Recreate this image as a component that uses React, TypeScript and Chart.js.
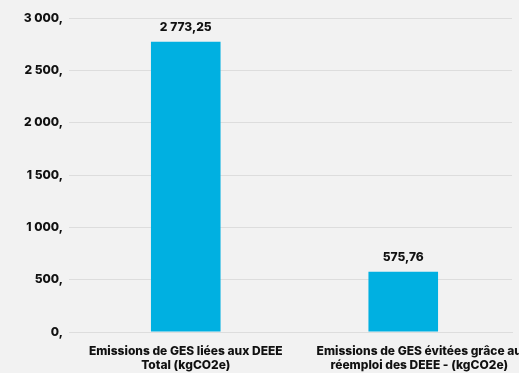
import React, { useEffect, useRef } from "react";
import { Chart, registerables } from "chart.js";

Chart.register(...registerables);

const categories: string[][] = [
  ["Emissions de GES liées aux DEEE", "Total (kgCO2e)"],
  ["Emissions de GES évitées grâce au", "réemploi des DEEE - (kgCO2e)"],
];
const values: number[] = [2773.25, 575.76];
const valueLabels: string[] = ["2 773,25", "575,76"];

const FONT = "Inter, sans-serif";
const WEIGHT = "800";
const BAR_COLOR = "#00b0e1";
const GRID = "#dddddd";
const BG = "#f2f2f2";

const fmtTick = (v: number) =>
  String(v).replace(/\B(?=(\d{3})+(?!\d))/g, " ") + ",";

// Writes the value above each bar
const valueLabelPlugin = {
  id: "valueLabels",
  afterDatasetsDraw(chart: any) {
    const { ctx } = chart;
    const meta = chart.getDatasetMeta(0);
    ctx.save();
    ctx.font = `${WEIGHT} 12px ${FONT}`;
    ctx.fillStyle = "#111";
    ctx.textAlign = "center";
    ctx.textBaseline = "middle";
    meta.data.forEach((bar: any, i: number) => {
      ctx.fillText(valueLabels[i], bar.x, bar.y - 14);
    });
    ctx.restore();
  },
};

// Category captions under the x axis; the last one is nudged right and
// allowed to run past the canvas edge.
const categoryCaptionPlugin = {
  id: "categoryCaptions",
  afterDraw(chart: any) {
    const { ctx } = chart;
    const xs = chart.scales.x;
    const nudge = [0, 16];
    ctx.save();
    ctx.font = `${WEIGHT} 12px ${FONT}`;
    ctx.fillStyle = "#111";
    ctx.textAlign = "center";
    ctx.textBaseline = "middle";
    categories.forEach((lines, i) => {
      const x = xs.getPixelForTick(i) + nudge[i];
      lines.forEach((line, j) => {
        ctx.fillText(line, x, xs.top + 19 + j * 14);
      });
    });
    ctx.restore();
  },
};

export default function App() {
  const ref = useRef<HTMLCanvasElement | null>(null);

  useEffect(() => {
    document.body.style.margin = "0";
    document.body.style.background = BG;
    const chart = new Chart(ref.current!, {
      type: "bar",
      data: {
        labels: categories,
        datasets: [
          {
            data: values,
            backgroundColor: BAR_COLOR,
            barPercentage: 0.32,
            categoryPercentage: 1,
          },
        ],
      },
      options: {
        animation: false,
        responsive: false,
        layout: { padding: { top: 18, left: 0, right: 7, bottom: 1 } },
        plugins: { legend: { display: false }, tooltip: { enabled: false } },
        scales: {
          x: {
            grid: { display: false },
            border: { color: GRID },
            afterFit: (scale: any) => {
              scale.paddingLeft = 0;
              scale.paddingRight = 0;
              scale.height = 40;
            },
            ticks: { display: false, autoSkip: false, maxRotation: 0 },
          },
          y: {
            min: 0,
            max: 3000,
            grid: { color: GRID, tickLength: 8, drawTicks: true, tickColor: GRID },
            border: { display: false },
            afterFit: (scale: any) => {
              scale.width = 77;
            },
            ticks: {
              stepSize: 500,
              padding: 6,
              color: "#111",
              font: { family: FONT, size: 12, weight: WEIGHT as any },
              callback: (v: any) => fmtTick(Number(v)),
            },
          },
        },
      },
      plugins: [valueLabelPlugin, categoryCaptionPlugin],
    });
    return () => chart.destroy();
  }, []);

  return (
    <div style={{ width: 519, height: 373, background: BG }}>
      <canvas ref={ref} width={519} height={373} />
    </div>
  );
}
